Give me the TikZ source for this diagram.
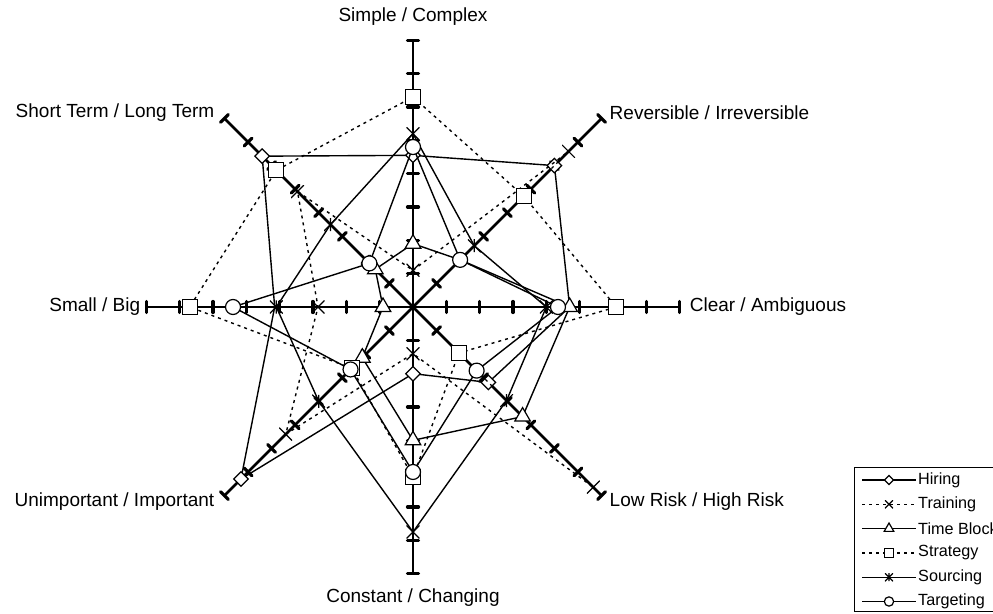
\documentclass[tikz,border=0pt]{standalone}
\usepackage{fontspec}
\setmainfont{Liberation Sans}
\usetikzlibrary{calc,shapes.geometric}

\begin{document}
\begin{tikzpicture}[x=1pt,y=1pt,
    axisline/.style={line width=2.8pt},
    tickmark/.style={line width=3.2pt,line cap=round},
    serie/.style={line width=1.4pt},
    dashserie/.style={line width=1.4pt,dash pattern=on 3pt off 4pt},
    mkbase/.style={draw,fill=white,line width=1.2pt,inner sep=0pt},
    mkdia/.style={mkbase,diamond,minimum size=15pt},
    mktri/.style={mkbase,regular polygon,regular polygon sides=3,minimum size=18pt},
    mksq/.style={mkbase,rectangle,minimum size=15pt},
    mkcirc/.style={mkbase,circle,minimum size=15pt},
    mkx/.style={rectangle,inner sep=0pt,minimum size=13pt,
        path picture={\draw[line width=1.2pt]
            (path picture bounding box.south west)--(path picture bounding box.north east)
            (path picture bounding box.north west)--(path picture bounding box.south east);}},
    mkast/.style={rectangle,inner sep=0pt,minimum size=13pt,
        path picture={\draw[line width=1.2pt]
            (path picture bounding box.south west)--(path picture bounding box.north east)
            (path picture bounding box.north west)--(path picture bounding box.south east)
            (path picture bounding box.north)--(path picture bounding box.south);}},
    lbl/.style={font=\fontsize{19}{22}\selectfont,inner sep=0pt},
    lgtext/.style={font=\fontsize{16.2}{19}\selectfont,inner sep=0pt,anchor=west}]
    \pgfmathsetmacro{\u}{33.33}
    \pgfmathsetmacro{\R}{8*\u}
    \useasboundingbox (-413,-306) rectangle (580,307);
    \clip (-413,-306) rectangle (580,307);
    \fill[white] (-413,-306) rectangle (580,307);
    % axes with ticks
    \coordinate (o) at (0,0);
    \foreach \a [count=\j] in {90,45,0,-45,-90,-135,180,135}{
        \coordinate (ax\j) at (\a:\R);
        \draw[axisline] (o) -- (ax\j);
        \foreach \k in {1,...,8}
            \draw[tickmark] ($(\a:\k*\u)+(\a+90:5.5)$) -- ($(\a:\k*\u)+(\a-90:5.5)$);
    }
    % axis labels
    \node[lbl] (lbSimple) at ($(ax1)+(0,24)$) {Simple / Complex};
    \node[lbl,anchor=west] (lbRev) at ($(ax2)+(8,6)$) {Reversible / Irreversible};
    \node[lbl,anchor=west] (lbClear) at ($(ax3)+(10,0)$) {Clear / Ambiguous};
    \node[lbl,anchor=west] (lbRisk) at ($(ax4)+(8,-6)$) {Low Risk / High Risk};
    \node[lbl] (lbConst) at ($(ax5)+(0,-24)$) {Constant / Changing};
    \node[lbl,anchor=east] (lbImp) at ($(ax6)+(-10,-6)$) {Unimportant / Important};
    \node[lbl,anchor=east] (lbSmall) at ($(ax7)+(-6,0)$) {Small / Big};
    \node[lbl,anchor=east] (lbTerm) at ($(ax8)+(-10,6)$) {Short Term / Long Term};
    % series: name/marker/line/values/marked points
    \foreach \s/\mk/\sty/\vals/\mks in {%
        hir/mkdia/serie/{4.55,6.0,4.7,3.2,2.0,7.3,4.15,6.4}/{1,2,4,5,6,8},
        trn/mkx/dashserie/{1.1,6.6,0,7.65,1.4,5.4,2.85,4.9}/{1,...,8},
        tbl/mktri/serie/{1.9,2.0,4.7,4.65,4.0,2.15,0.9,1.6}/{1,3,4,5,6,7,8},
        str/mksq/dashserie/{6.3,4.7,6.1,1.95,5.1,2.6,6.7,5.8}/{1,...,8},
        src/mkast/serie/{5.2,2.6,4.0,3.97,6.75,4.0,4.1,3.5}/{1,...,8},
        tgt/mkcirc/serie/{4.8,2.0,4.35,2.7,4.95,2.65,5.4,1.85}/{1,...,8}}{
        \foreach \v [count=\i] in \vals
            \coordinate (\s\i) at ({90-45*(\i-1)}:\v*\u);
        \draw[\sty] (\s1)--(\s2)--(\s3)--(\s4)--(\s5)--(\s6)--(\s7)--(\s8)--cycle;
        \foreach \i in \mks
            \node[\mk] (\s m\i) at (\s\i) {};
    }
    % legend
    \foreach \s/\mk/\sty/\name [count=\r] in {%
        hir/mkdia/serie/Hiring,
        trn/mkx/dashserie/Training,
        tbl/mktri/serie/Time Block,
        str/mksq/dashserie/Strategy,
        src/mkast/serie/Sourcing,
        tgt/mkcirc/serie/Targeting}{
        \pgfmathsetmacro{\ly}{307-480-24.3*(\r-1)}
        \coordinate (lg\s a) at (449,\ly);
        \coordinate (lg\s b) at (503,\ly);
        \draw[\sty] (lg\s a) -- (lg\s b);
        \node[\mk,scale=0.62] (lg\s m) at (476,\ly) {};
        \node[lgtext] (lg\s t) at (505,\ly) {\name};
    }
    \draw[line width=0.8pt] (441,-160) rectangle (600,-304);
\end{tikzpicture}
\end{document}
